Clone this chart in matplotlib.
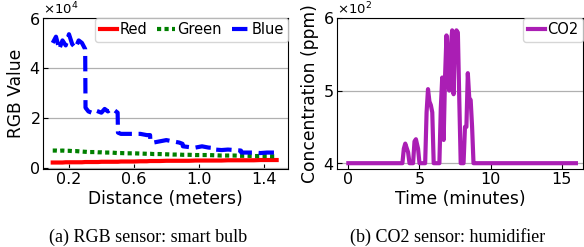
import matplotlib.pyplot as plt
from matplotlib.ticker import ScalarFormatter

# RGB sensor readings vs distance
distance = [0.10, 0.12, 0.14, 0.16, 0.18, 0.20, 0.22, 0.24, 0.26, 0.28,
            0.30, 0.302, 0.32, 0.34, 0.36, 0.38, 0.40, 0.42, 0.44, 0.46,
            0.48, 0.50, 0.502, 0.52, 0.56, 0.60, 0.64, 0.68, 0.70, 0.702,
            0.72, 0.76, 0.80, 0.84, 0.88, 0.90, 0.902, 0.94, 0.98, 1.02,
            1.06, 1.10, 1.102, 1.14, 1.18, 1.22, 1.26, 1.262, 1.30, 1.34,
            1.38, 1.42, 1.46, 1.48]
blue = [50000, 52500, 47500, 51000, 49000, 53500, 49500, 48000, 51000, 50000,
        47500, 24000, 22500, 22000, 23000, 22500, 22000, 23500, 22500, 23500,
        23000, 22000, 14000, 13500, 13500, 13500, 13500, 13000, 13000, 10500,
        10000, 10500, 11000, 10500, 10000, 9500, 8500, 8200, 8000, 8500,
        8000, 7800, 7200, 7000, 7200, 7000, 6800, 6000, 6000, 6000,
        5800, 6000, 6000, 6000]
green = [6800, 6800, 6700, 6800, 6700, 6700, 6600, 6600, 6500, 6400,
         6300, 6300, 6200, 6200, 6200, 6100, 6100, 6000, 6000, 6000,
         5900, 5800, 5800, 5800, 5700, 5700, 5600, 5500, 5500, 5500,
         5400, 5400, 5300, 5200, 5200, 5100, 5100, 5100, 5000, 5000,
         5000, 4900, 4900, 4800, 4800, 4800, 4700, 4700, 4700, 4600,
         4600, 4600, 4500, 4500]
red = [2000, 2000, 2000, 2000, 2100, 2100, 2100, 2100, 2100, 2100,
       2200, 2200, 2200, 2200, 2200, 2200, 2300, 2300, 2300, 2300,
       2300, 2300, 2300, 2400, 2400, 2400, 2500, 2500, 2600, 2600,
       2600, 2600, 2700, 2700, 2700, 2700, 2700, 2700, 2800, 2800,
       2800, 2800, 2800, 2800, 2900, 2900, 2900, 2900, 2900, 2900,
       3000, 3000, 3000, 3000]

# CO2 sensor readings vs time
minutes = [0, 3.8, 3.9, 4.0, 4.2, 4.3, 4.55, 4.65, 4.75, 4.9,
           5.0, 5.4, 5.5, 5.6, 5.7, 5.8, 5.9, 6.0, 6.4, 6.5,
           6.6, 6.7, 6.8, 6.9, 7.0, 7.1, 7.2, 7.3, 7.4, 7.5,
           7.6, 7.7, 7.8, 7.9, 8.1, 8.2, 8.3, 8.4, 8.5, 8.6,
           8.7, 8.8, 9.0, 16]
co2 = [400, 400, 420, 427, 415, 400, 400, 430, 433, 420,
       400, 400, 470, 502, 485, 480, 470, 400, 400, 476,
       518, 432, 520, 576, 510, 500, 560, 583, 495, 575,
       583, 580, 487, 400, 400, 450, 450, 524, 490, 487,
       450, 400, 400, 400]

tick_fs = 11.5
label_fs = 12.3

fig = plt.figure(figsize=(5.84, 2.47), dpi=100)
ax1 = fig.add_axes([43/584, 78/247, 245/584, 151/247])
ax2 = fig.add_axes([337/584, 78/247, 246/584, 151/247])

ax1.plot(distance, red, color='red', lw=3, label='Red')
ax1.plot(distance, green, color='green', lw=3, ls=(0, (1, 0.8)), label='Green')
ax1.plot(distance, blue, color='blue', lw=3, ls='--', label='Blue')
ax1.set_xlim(0.04, 1.55)
ax1.set_ylim(-600, 60000)
ax1.set_xticks([0.2, 0.6, 1.0, 1.4])
ax1.set_yticks([0, 20000, 40000, 60000])
ax1.set_xlabel('Distance (meters)', fontsize=label_fs, labelpad=2)
ax1.set_ylabel('RGB Value', fontsize=label_fs, labelpad=3)
ax1.legend(loc='upper right', ncol=3, borderaxespad=0, handlelength=1.2,
           columnspacing=0.7, handletextpad=0.15, borderpad=0.3, fontsize=10.5)

ax2.plot(minutes, co2, color='#aa1eb4', lw=3, label='CO2')
ax2.set_xlim(-0.8, 16.5)
ax2.set_ylim(392, 600)
ax2.set_xticks([0, 5, 10, 15])
ax2.set_yticks([400, 500, 600])
ax2.set_xlabel('Time (minutes)', fontsize=label_fs, labelpad=2)
ax2.set_ylabel('Concentration (ppm)', fontsize=label_fs, labelpad=3)
ax2.legend(loc='upper right', borderaxespad=0, handlelength=1.2,
           handletextpad=0.15, borderpad=0.3, fontsize=10.5)

for ax in (ax1, ax2):
    fmt = ScalarFormatter(useOffset=False, useMathText=True)
    fmt.set_powerlimits((0, 0))
    ax.yaxis.set_major_formatter(fmt)
    ax.yaxis.get_offset_text().set_fontsize(9.5)
    ax.tick_params(direction='in', pad=2, labelsize=tick_fs)
    ax.grid(True, axis='y', color='#b0b0b0', lw=0.9)

fig.text(148/584, 10/247, '(a) RGB sensor: smart bulb', ha='center', va='center',
         family='Liberation Serif', fontsize=13)
fig.text(448/584, 10/247, '(b) CO2 sensor: humidifier', ha='center', va='center',
         family='Liberation Serif', fontsize=13)

fig.savefig('out.png', dpi=100)
